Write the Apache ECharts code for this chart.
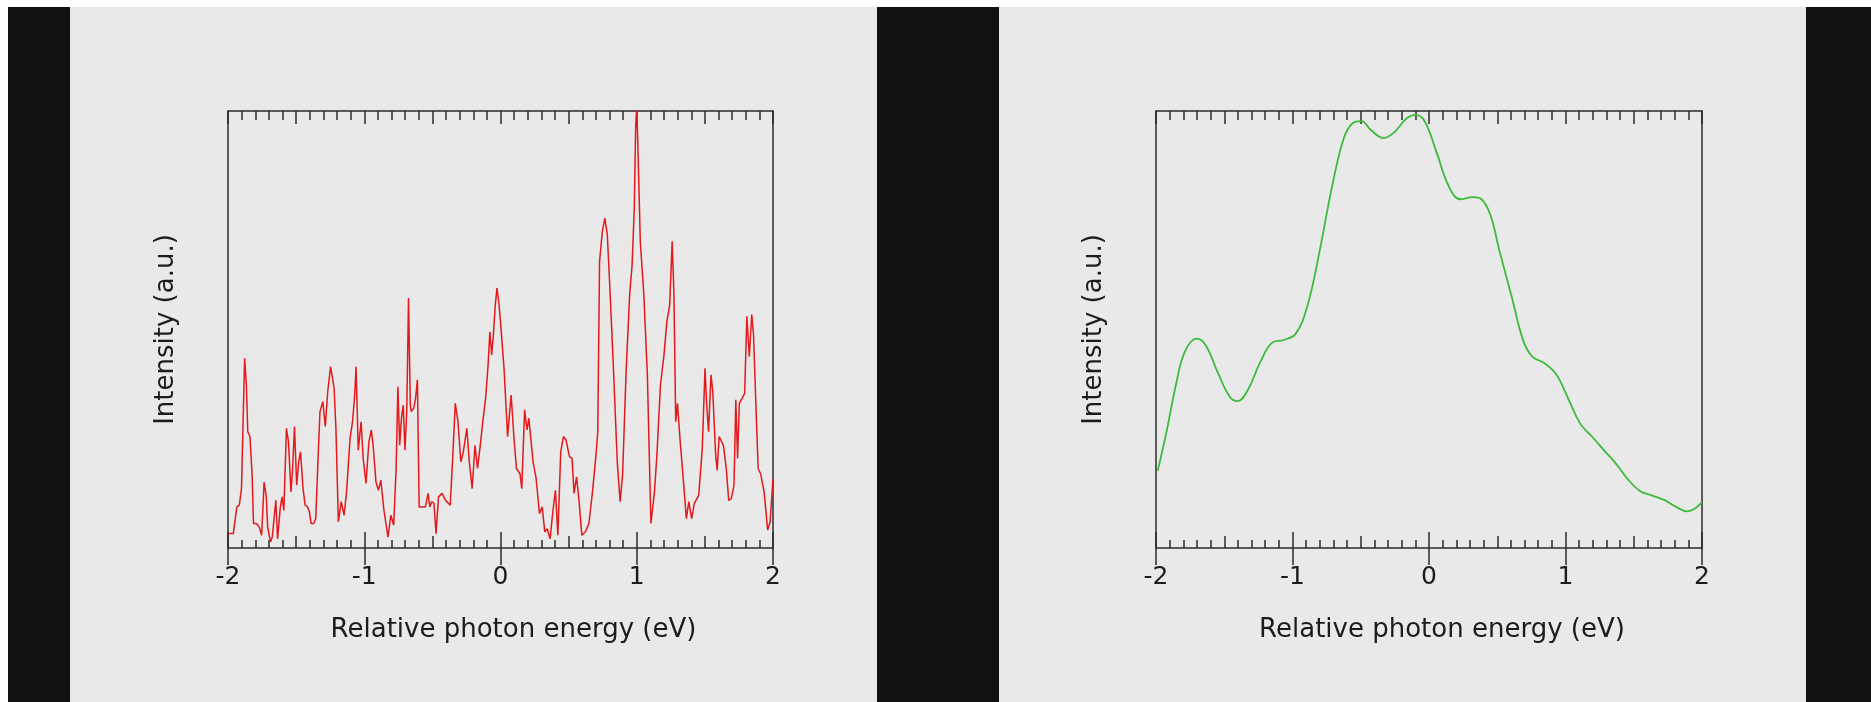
<!DOCTYPE html>
<html>
<head>
<meta charset="utf-8">
<script src="https://cdn.jsdelivr.net/npm/echarts@6/dist/echarts.min.js"></script>
<style>
  html, body { margin: 0; padding: 0; background: #ffffff; }
  #chart { width: 1871px; height: 702px; }
</style>
</head>
<body>
<div id="chart"></div>
<script>
// left panel: noisy spectrum (red)
const energyRed = [
  -2.000, -1.961, -1.935, -1.917, -1.901, -1.878, -1.865, -1.855, -1.839, -1.823,
  -1.813, -1.792, -1.771, -1.753, -1.735, -1.719, -1.709, -1.688, -1.675, -1.649,
  -1.636, -1.616, -1.603, -1.590, -1.571, -1.556, -1.538, -1.527, -1.512, -1.496,
  -1.481, -1.468, -1.449, -1.434, -1.416, -1.403, -1.390, -1.371, -1.356, -1.338,
  -1.325, -1.304, -1.286, -1.268, -1.247, -1.221, -1.208, -1.190, -1.169, -1.148,
  -1.130, -1.104, -1.086, -1.070, -1.060, -1.044, -1.023, -1.008, -0.987, -0.966,
  -0.948, -0.935, -0.914, -0.896, -0.878, -0.857, -0.826, -0.805, -0.784, -0.766,
  -0.753, -0.740, -0.727, -0.714, -0.701, -0.688, -0.675, -0.662, -0.655, -0.636,
  -0.623, -0.610, -0.597, -0.571, -0.551, -0.532, -0.519, -0.506, -0.488, -0.473,
  -0.455, -0.429, -0.403, -0.369, -0.351, -0.332, -0.312, -0.291, -0.273, -0.247,
  -0.229, -0.208, -0.187, -0.169, -0.151, -0.130, -0.109, -0.091, -0.078, -0.065,
  -0.052, -0.039, -0.026, -0.013, 0.000, 0.026, 0.052, 0.078, 0.099, 0.117,
  0.143, 0.156, 0.177, 0.195, 0.208, 0.221, 0.239, 0.260, 0.286, 0.306,
  0.325, 0.343, 0.364, 0.384, 0.403, 0.421, 0.442, 0.462, 0.481, 0.506,
  0.525, 0.540, 0.558, 0.577, 0.597, 0.623, 0.649, 0.675, 0.701, 0.714,
  0.727, 0.748, 0.766, 0.784, 0.805, 0.831, 0.857, 0.878, 0.896, 0.922,
  0.948, 0.966, 0.982, 0.992, 1.000, 1.008, 1.026, 1.052, 1.078, 1.104,
  1.130, 1.148, 1.174, 1.200, 1.221, 1.242, 1.260, 1.273, 1.286, 1.299,
  1.319, 1.345, 1.364, 1.382, 1.403, 1.423, 1.455, 1.481, 1.501, 1.512,
  1.527, 1.545, 1.558, 1.579, 1.590, 1.605, 1.636, 1.657, 1.675, 1.694,
  1.714, 1.727, 1.740, 1.753, 1.774, 1.792, 1.808, 1.826, 1.844, 1.857,
  1.875, 1.891, 1.909, 1.935, 1.961, 1.979, 2.000
];
const intensityRed = [
  3.3, 3.3, 9.4, 9.8, 13.6, 43.4, 37.3, 26.6, 25.5, 16.7,
  5.6, 5.6, 4.8, 2.9, 15.1, 11.7, 4.8, 1.4, 2.5, 10.9,
  2.1, 9.4, 11.7, 8.6, 27.4, 24.3, 12.8, 17.4, 27.8, 14.4,
  19.7, 22.0, 13.6, 9.8, 9.4, 8.3, 5.6, 5.6, 6.7, 21.3,
  31.2, 33.5, 27.8, 35.8, 41.5, 36.5, 27.4, 6.0, 10.6, 7.5,
  12.8, 25.1, 28.9, 35.0, 41.5, 22.4, 28.9, 20.5, 14.8, 24.3,
  27.0, 23.5, 15.1, 13.2, 15.5, 9.0, 2.5, 7.5, 5.2, 18.2,
  36.9, 23.5, 29.7, 32.7, 22.4, 31.2, 57.2, 32.7, 31.2, 32.0,
  34.3, 38.5, 9.4, 9.4, 9.4, 12.5, 9.4, 10.6, 10.2, 3.3,
  11.7, 12.5, 10.9, 9.8, 20.5, 33.1, 28.9, 19.7, 22.0, 27.4,
  19.7, 13.6, 23.5, 18.2, 22.8, 28.9, 34.3, 41.9, 49.5, 44.2,
  48.8, 55.3, 59.5, 56.4, 51.8, 41.1, 25.5, 35.0, 25.1, 18.2,
  17.0, 13.6, 31.6, 27.0, 29.7, 29.3, 19.7, 16.3, 7.9, 9.4,
  3.7, 4.4, 2.1, 8.3, 13.2, 2.9, 22.0, 25.5, 24.7, 20.9,
  20.5, 12.5, 16.3, 10.6, 2.9, 3.7, 5.6, 12.8, 21.3, 26.6,
  65.6, 72.5, 75.5, 71.7, 58.0, 39.6, 19.7, 10.6, 16.7, 40.4,
  58.0, 64.8, 77.8, 96.2, 101.0, 92.4, 70.2, 58.0, 39.6, 5.6,
  12.8, 21.3, 37.3, 44.2, 51.8, 55.7, 70.2, 58.0, 28.9, 33.1,
  24.3, 14.4, 6.7, 10.6, 6.7, 10.2, 12.1, 22.8, 41.1, 33.5,
  26.6, 39.6, 35.8, 21.3, 17.8, 25.5, 23.5, 18.2, 10.9, 11.3,
  14.4, 33.9, 20.5, 33.1, 34.3, 35.4, 53.0, 43.8, 53.4, 48.8,
  32.3, 18.2, 17.0, 12.8, 4.1, 6.0, 15.9
];

// right panel: smooth spectrum (green)
const energyGreen = [
  -1.987, -1.921, -1.855, -1.789, -1.701, -1.636, -1.548, -1.460, -1.403, -1.328,
  -1.240, -1.153, -1.065, -0.977, -0.889, -0.801, -0.713, -0.626, -0.560, -0.494,
  -0.428, -0.331, -0.252, -0.165, -0.099, -0.033, 0.055, 0.143, 0.230, 0.318,
  0.384, 0.450, 0.516, 0.604, 0.691, 0.757, 0.845, 0.933, 1.021, 1.109,
  1.197, 1.284, 1.372, 1.460, 1.548, 1.636, 1.723, 1.811, 1.890, 1.943, 2.000
];
const intensityGreen = [
  17.7, 26.9, 37.2, 44.9, 47.9, 46.4, 40.2, 34.6, 33.6, 36.1,
  42.3, 46.9, 47.6, 49.0, 55.6, 68.0, 82.3, 93.6, 97.2, 97.7,
  95.7, 93.8, 95.2, 98.3, 99.1, 97.7, 90.6, 82.9, 79.8, 80.3,
  79.8, 76.2, 68.0, 57.7, 47.4, 43.8, 42.3, 39.7, 34.1, 28.4,
  25.4, 22.3, 19.2, 15.6, 13.0, 12.0, 11.0, 9.4, 8.4, 8.9, 10.5
];

const xTickLabels = [-2, -1, 0, 1, 2];
const xName = 'Relative photon energy (eV)';
const yName = 'Intensity (a.u.)';

const axisColor = '#2b2b2b';
const textColor = '#1c1c1c';
const fontFamily = 'DejaVu Sans';

function pairs(xs, ys) {
  return xs.map((x, i) => [x, ys[i]]);
}

function tickStyle() {
  return { color: axisColor, width: 1.5 };
}

// each box: half-unit ticks + minor ticks on the framed axes,
// plus a bare axis on each side that adds the longer integer ticks
function xAxesFor(gridIndex) {
  const base = {
    gridIndex: gridIndex,
    type: 'value',
    min: -2,
    max: 2,
    splitLine: { show: false },
    axisLabel: { show: false }
  };
  const line = { show: true, onZero: false, lineStyle: tickStyle() };
  return [
    Object.assign({}, base, {
      position: 'bottom',
      interval: 0.5,
      axisLine: line,
      axisTick: { show: true, inside: true, length: 12, lineStyle: tickStyle() },
      minorTick: { show: true, splitNumber: 5, length: 8, lineStyle: tickStyle() },
      axisLabel: {
        show: true,
        margin: 17,
        fontSize: 25,
        fontFamily: fontFamily,
        color: textColor,
        formatter: function (v) {
          return xTickLabels.indexOf(v) >= 0 ? String(v) : '';
        }
      },
      name: xName,
      nameLocation: 'middle',
      nameGap: 69,
      nameTextStyle: { fontSize: 26, fontFamily: fontFamily, color: textColor, padding: [0, 0, 0, 26] }
    }),
    Object.assign({}, base, {
      position: 'bottom',
      interval: 1,
      axisLine: { show: false },
      axisTick: { show: true, inside: true, length: 16, lineStyle: tickStyle() }
    }),
    Object.assign({}, base, {
      position: 'top',
      interval: 0.5,
      axisLine: line,
      axisTick: { show: true, inside: true, length: 13, lineStyle: tickStyle() },
      minorTick: { show: true, splitNumber: 5, length: 9, lineStyle: tickStyle() }
    }),
    Object.assign({}, base, {
      position: 'top',
      interval: 1,
      axisLine: { show: false },
      axisTick: { show: true, inside: true, length: 17, lineStyle: tickStyle() }
    })
  ];
}

function yAxesFor(gridIndex) {
  const line = { show: true, onZero: false, lineStyle: tickStyle() };
  return [
    {
      gridIndex: gridIndex,
      type: 'value',
      position: 'left',
      min: 0,
      max: 100,
      splitLine: { show: false },
      axisTick: { show: false },
      axisLabel: { show: false },
      axisLine: line,
      name: yName,
      nameLocation: 'middle',
      nameGap: 49,
      nameTextStyle: { fontSize: 26, fontFamily: fontFamily, color: textColor }
    },
    {
      gridIndex: gridIndex,
      type: 'value',
      position: 'right',
      min: 0,
      max: 100,
      splitLine: { show: false },
      axisTick: { show: false },
      axisLabel: { show: false },
      axisLine: line
    }
  ];
}

const chart = echarts.init(document.getElementById('chart'), null, { renderer: 'canvas' });

const options = {
  animation: false,
  backgroundColor: '#ffffff',
  graphic: [
    // black frame strips and grey panels
    { type: 'rect', z: -10, shape: { x: 8, y: 7, width: 1863, height: 695 }, style: { fill: '#111111' } },
    { type: 'rect', z: -9, shape: { x: 70, y: 7, width: 807, height: 695 }, style: { fill: '#e9e9e9' } },
    { type: 'rect', z: -9, shape: { x: 999, y: 7, width: 807, height: 695 }, style: { fill: '#e9e9e9' } }
  ],
  grid: [
    { left: 228, top: 111, width: 545, height: 437 },
    { left: 1156, top: 111, width: 546, height: 437 }
  ],
  xAxis: xAxesFor(0).concat(xAxesFor(1)),
  yAxis: yAxesFor(0).concat(yAxesFor(1)),
  series: [
    {
      name: 'red',
      type: 'line',
      xAxisIndex: 0,
      yAxisIndex: 0,
      data: pairs(energyRed, intensityRed),
      showSymbol: false,
      clip: true,
      lineStyle: { color: '#e3191c', width: 1.5 }
    },
    {
      name: 'green',
      type: 'line',
      xAxisIndex: 4,
      yAxisIndex: 2,
      data: pairs(energyGreen, intensityGreen),
      showSymbol: false,
      smooth: 0.4,
      clip: true,
      lineStyle: { color: '#3dbb3d', width: 1.8 }
    }
  ]
};

chart.setOption(options);
</script>
</body>
</html>
